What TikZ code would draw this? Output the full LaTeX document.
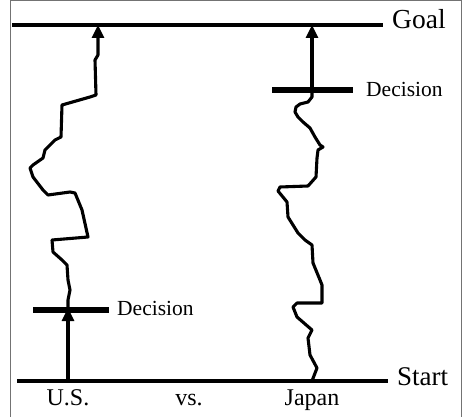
\documentclass[tikz,border=0pt]{standalone}
\usepackage{fontspec}
\setmainfont{Liberation Serif}
\usepackage{tikz}
\usetikzlibrary{arrows.meta,calc}

\begin{document}
\begin{tikzpicture}[
    x=1pt, y=-1pt,
    limit/.style={line width=3.2pt},
    bar/.style={line width=6.5pt},
    route/.style={line width=3.1pt, line join=round},
    arr/.style={-{Triangle[length=13pt,width=12pt]}, line width=3.1pt},
    lbl/.style={font=\fontsize{24}{28}\selectfont, anchor=base},
    declbl/.style={font=\fontsize{21.5}{25}\selectfont, anchor=west}
]
    \useasboundingbox (0,0) rectangle (463,417);
    % --- Frame (open at the bottom) ---
    \draw[black!55, line width=1pt] (10,417) -- (10,1) -- (461,1) -- (461,417);

    % --- Goal and start lines ---
    \coordinate (goalL) at (12,25);
    \coordinate (goalR) at (383,25);
    \coordinate (startL) at (17,381);
    \coordinate (startR) at (388,381);
    \draw[limit] (goalL) -- (goalR);
    \draw[limit] (startL) -- (startR);
    \node[font=\fontsize{27.5}{31}\selectfont, anchor=base west, inner sep=0pt] (goal) at (392,29) {Goal};
    \node[font=\fontsize{27}{31}\selectfont, anchor=base west, inner sep=0pt] (start) at (397,385) {Start};

    % --- U.S.: early decision, then a long wandering route ---
    \coordinate (usStart) at (68,381);
    \coordinate (usDec) at (68,310);
    \coordinate (usGoal) at (98,25);
    \draw[bar] (33,310) -- (109,310);
    \node[declbl, inner sep=0pt] (usDecText) at (117,308) {Decision};
    \draw[arr] (usStart) -- ($(usDec)+(0,-2)$);
    \draw[route, -{Triangle[length=13pt,width=12pt]}] (usDec) -- (68,300) -- (70,290) -- (68,280)
        -- (67,265) -- (62,260) -- (53,252) -- (52,240) -- (88,237) -- (82,210)
        -- (75,193) -- (70,192) -- (48,195) -- (43,190) -- (33,177) -- (30,168)
        -- (33,165) -- (43,158) -- (45,150) -- (55,140) -- (61,137) -- (62,105)
        -- (90,97) -- (96,95) -- (95,60) -- (98,55) -- (usGoal);

    % --- Japan: long wandering before the decision, then straight ---
    \coordinate (jpStart) at (312,381);
    \coordinate (jpDec) at (312,90);
    \coordinate (jpGoal) at (312,25);
    \draw[route] (jpStart) -- (317,368) -- (310,355) -- (308,338) -- (312,330)
        -- (297,317) -- (293,307) -- (297,303) -- (322,303) -- (322,285) -- (320,280)
        -- (313,263) -- (312,245) -- (305,240) -- (298,233) -- (293,225) -- (288,217)
        -- (287,202) -- (278,191) -- (280,187) -- (308,186) -- (316,177) -- (317,158)
        -- (318,150) -- (323,147) -- (320,145) -- (315,137) -- (310,128) -- (303,122)
        -- (298,117) -- (295,112) -- (296,107) -- (300,104) -- (308,102) -- (312,97)
        -- (jpDec);
    \draw[bar] (272,90) -- (353,90);
    \node[declbl, inner sep=0pt] (jpDecText) at (366,89) {Decision};
    \draw[arr] (jpDec) -- (jpGoal);

    % --- Bottom labels ---
    \node[lbl] (us) at (68,405) {U.S.};
    \node[lbl] (vs) at (189,405) {vs.};
    \node[lbl] (jp) at (312,405) {Japan};
\end{tikzpicture}
\end{document}
